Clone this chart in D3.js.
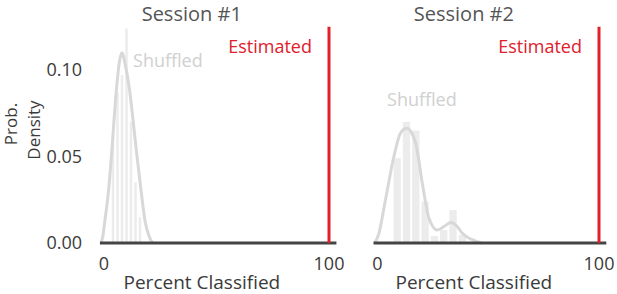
<!DOCTYPE html>
<html>
<head>
<meta charset="utf-8">
<script src="https://cdn.jsdelivr.net/npm/d3@7"></script>
<style>
  body { margin: 0; background: #fff; }
  text { font-family: "Open Sans", "Noto Sans", sans-serif; }
</style>
</head>
<body>
<div id="chart"></div>
<script>
// panel titles and ticks
var sessions = ["Session #1", "Session #2"];
var xTicks = [0, 100];
var yTicks = [0, 0.05, 0.10];
var estimated = [100, 100];

// shuffled histograms (bin start, bin width, density)
var hist1Start = [3, 5, 7, 9, 11, 13, 15];
var hist1Width = 2;
var hist1Dens = [0.058, 0.087, 0.097, 0.124, 0.07, 0.035, 0.015];

var hist2Start = [6.8, 11, 15.2, 19.4, 23.6, 27.8, 32, 36.2];
var hist2Width = 4.2;
var hist2Dens = [0.049, 0.070, 0.065, 0.024, 0.004, 0.0075, 0.019, 0.0046];

// shuffled density curves
var kde1X = [-1.3, -0.5, 0.4, 2, 3.4, 5.6, 7, 8.1, 9.3, 11.2, 13, 14.5, 16.5, 18.2, 20, 21.6];
var kde1Y = [0, 0.004, 0.013, 0.03, 0.052, 0.090, 0.106, 0.110, 0.104, 0.090, 0.07, 0.052, 0.03, 0.013, 0.004, 0];

var kde2X = [-1.2, 0.5, 3.6, 7.4, 10.4, 13.2, 17.2, 20.2, 23.2, 27, 30, 33, 36, 38.3, 41, 43.6, 47];
var kde2Y = [0, 0.005, 0.025, 0.050, 0.0636, 0.0663, 0.0578, 0.0347, 0.0145, 0.0075, 0.0095, 0.0118, 0.0095, 0.0056, 0.003, 0.0015, 0];

var panels = [
  {title: sessions[0], est: estimated[0], hs: hist1Start, hw: hist1Width, hd: hist1Dens, kx: kde1X, ky: kde1Y,
   r0: 104, r1: 329, shuffX: 12.9, shuffY: 67},
  {title: sessions[1], est: estimated[1], hs: hist2Start, hw: hist2Width, hd: hist2Dens, kx: kde2X, ky: kde2Y,
   r0: 377.5, r1: 599, shuffX: 4.3, shuffY: 106}
];

var W = 617, H = 294;
var svg = d3.select("#chart").append("svg")
  .attr("width", W).attr("height", H);

var y = d3.scaleLinear().domain([0, 0.125]).range([243, 26.75]);

// y axis labels
svg.selectAll(".ytick")
  .data(yTicks)
  .enter().append("text")
  .attr("x", 82)
  .attr("y", function(d) { return y(d) + 6; })
  .attr("text-anchor", "end")
  .attr("font-size", 18)
  .attr("fill", "#3a3a3a")
  .text(function(d) { return d3.format(".2f")(d); });

svg.append("text")
  .attr("transform", "translate(17,124) rotate(-90)")
  .attr("text-anchor", "middle")
  .attr("font-size", 17).attr("fill", "#3a3a3a")
  .text("Prob.");
svg.append("text")
  .attr("transform", "translate(40,130) rotate(-90)")
  .attr("text-anchor", "middle")
  .attr("font-size", 17).attr("fill", "#3a3a3a")
  .text("Density");

panels.forEach(function(p) {
  var x = d3.scaleLinear().domain([0, 100]).range([p.r0, p.r1]);
  var g = svg.append("g");

  // histogram bars
  g.selectAll("rect")
    .data(p.hs)
    .enter().append("rect")
    .attr("x", function(d) { return x(d) + 1; })
    .attr("y", function(d, i) { return y(p.hd[i]); })
    .attr("width", x(p.hw) - x(0) - 2)
    .attr("height", function(d, i) { return y(0) - y(p.hd[i]); })
    .attr("fill", "#ececec");

  // density curve
  var line = d3.line()
    .x(function(d) { return x(d[0]); })
    .y(function(d) { return y(d[1]); })
    .curve(d3.curveMonotoneX);
  g.append("path")
    .datum(p.kx.map(function(v, i) { return [v, p.ky[i]]; }))
    .attr("d", line)
    .attr("fill", "none")
    .attr("stroke", "#d8d8d8")
    .attr("stroke-width", 3);

  // x axis line
  g.append("line")
    .attr("x1", x(-1.8)).attr("x2", x(103.3))
    .attr("y1", y(0)).attr("y2", y(0))
    .attr("stroke", "#444").attr("stroke-width", 3);

  // estimated line
  g.append("line")
    .attr("x1", x(p.est)).attr("x2", x(p.est))
    .attr("y1", y(0)).attr("y2", y(0.125))
    .attr("stroke", "#e0202b").attr("stroke-width", 3);

  g.append("text")
    .attr("x", x(p.est) - 17).attr("y", 53)
    .attr("text-anchor", "end")
    .attr("font-size", 18).attr("fill", "#e0202b")
    .text("Estimated");

  g.append("text")
    .attr("x", x(p.shuffX)).attr("y", p.shuffY)
    .attr("font-size", 18).attr("fill", "#d0d0d0")
    .text("Shuffled");

  // tick labels
  g.selectAll(".xtick")
    .data(xTicks)
    .enter().append("text")
    .attr("x", function(d) { return x(d); })
    .attr("y", 270)
    .attr("text-anchor", "middle")
    .attr("font-size", 18).attr("fill", "#3a3a3a")
    .text(function(d) { return d; });

  g.append("text")
    .attr("x", x(43.5)).attr("y", 289)
    .attr("text-anchor", "middle")
    .attr("font-size", 19).attr("fill", "#3a3a3a")
    .text("Percent Classified");

  g.append("text")
    .attr("x", x(39)).attr("y", 21)
    .attr("text-anchor", "middle")
    .attr("font-size", 20).attr("fill", "#555")
    .text(p.title);
});
</script>
</body>
</html>
